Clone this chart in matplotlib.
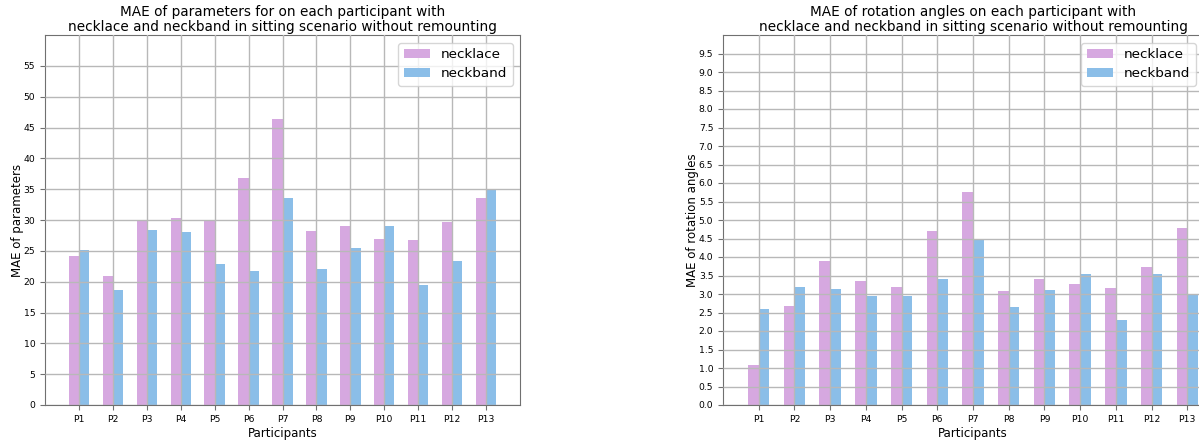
import numpy as np
from matplotlib import pyplot as plt

participants = ['P%d' % i for i in range(1, 14)]

# MAE of parameters
param_necklace = [24.1, 20.9, 29.8, 30.4, 29.8, 36.8, 46.4, 28.2, 29.0, 27.0, 26.7, 29.6, 33.6]
param_neckband = [25.2, 18.7, 28.3, 28.1, 22.8, 21.8, 33.6, 22.1, 25.4, 29.1, 19.4, 23.4, 35.0]

# MAE of rotation angles
rot_necklace = [1.08, 2.68, 3.88, 3.35, 3.20, 4.71, 5.75, 3.07, 3.41, 3.28, 3.15, 3.72, 4.78]
rot_neckband = [2.60, 3.19, 3.14, 2.95, 2.95, 3.40, 4.45, 2.65, 3.11, 3.55, 2.31, 3.54, 2.98]

c_necklace = '#d6a8e0'
c_neckband = '#8bbee8'
W, H = 1199, 441

fig = plt.figure(figsize=(W / 100, H / 100), dpi=100)

def drawBars(rect, necklace, neckband, ymax, step, ylabel, title, legend_right):
    ax = fig.add_axes(rect)
    x = np.arange(1, len(participants) + 1)
    width = 0.3
    ax.bar(x - width / 2, necklace, width, color=c_necklace, label='necklace', zorder=1)
    ax.bar(x + width / 2, neckband, width, color=c_neckband, label='neckband', zorder=1)
    ax.set_xlim(0, len(participants) + 1)
    ax.set_ylim(0, ymax)
    ax.set_xticks(x)
    ax.set_xticklabels(participants, fontsize=6.7)
    ax.set_yticks(np.arange(0, ymax - step / 2, step))
    ax.tick_params(axis='y', labelsize=6.7)
    ax.tick_params(length=3.5, color='#707070')
    ax.grid(True, color='#b8b8b8', linewidth=1, zorder=2)
    ax.set_axisbelow(False)
    for s in ax.spines.values():
        s.set_color('#707070')
    ax.set_xlabel('Participants', fontsize=8.5, labelpad=2)
    ax.set_ylabel(ylabel, fontsize=8.5, labelpad=0)
    ax.set_title(title, fontsize=9.8, pad=3, linespacing=1.05)
    ax.legend(loc='upper right', fontsize=9.7, borderaxespad=0,
              bbox_to_anchor=(legend_right / W, (H - 43) / H),
              bbox_transform=fig.transFigure, handlelength=2.0,
              labelspacing=0.45)
    return ax

drawBars([45 / W, 36 / H, 475 / W, 370 / H], param_necklace, param_neckband, 60, 5,
         'MAE of parameters',
         'MAE of parameters for on each participant with\nnecklace and neckband in sitting scenario without remounting',
         513)
drawBars([723 / W, 36 / H, 500 / W, 370 / H], rot_necklace, rot_neckband, 10, 0.5,
         'MAE of rotation angles',
         'MAE of rotation angles on each participant with\nnecklace and neckband in sitting scenario without remounting',
         1196)

fig.savefig('out.png', dpi=100)
